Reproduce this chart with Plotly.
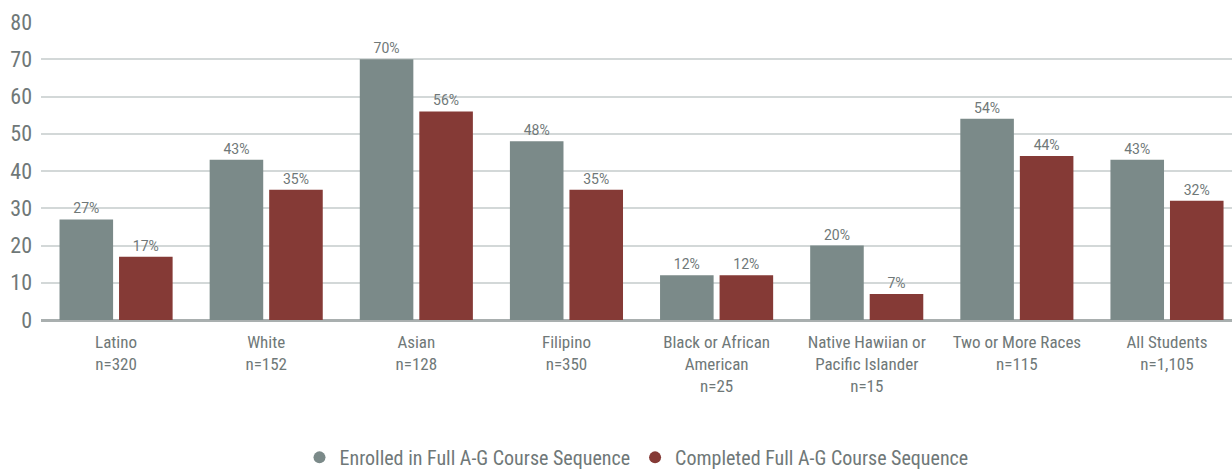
import plotly.graph_objects as go

# Student groups (tick labels) and the two series, in percent
categories = [
    "Latino<br>n=320",
    "White<br>n=152",
    "Asian<br>n=128",
    "Filipino<br>n=350",
    "Black or African<br>American<br>n=25",
    "Native Hawiian or<br>Pacific Islander<br>n=15",
    "Two or More Races<br>n=115",
    "All Students<br>n=1,105",
]
enrolled = [27, 43, 70, 48, 12, 20, 54, 43]
completed = [17, 35, 56, 35, 12, 7, 44, 32]
series_names = ["Enrolled in Full A-G Course Sequence", "Completed Full A-G Course Sequence"]

GREY = "#7b8a89"
RED = "#853a36"
TEXT = "#6f7878"
NARROW = "Roboto Condensed, Liberation Sans Narrow, DejaVu Sans Condensed, Roboto, sans-serif"

fig = go.Figure()
for vals, color in [(enrolled, GREY), (completed, RED)]:
    fig.add_trace(go.Bar(
        x=categories, y=vals, marker=dict(color=color, line=dict(width=0)),
        text=[f"{v}%" for v in vals], textposition="outside",
        textfont=dict(family="Roboto, sans-serif", size=14, color=TEXT),
        constraintext="none", cliponaxis=False, showlegend=False,
    ))

# Round legend markers
for name, color in zip(series_names, [GREY, RED]):
    fig.add_trace(go.Scatter(
        x=[None], y=[None], mode="markers", name=name,
        marker=dict(symbol="circle", size=13, color=color),
    ))

fig.update_layout(
    width=1232, height=472,
    margin=dict(l=41, r=0, t=22, b=152),
    paper_bgcolor="white", plot_bgcolor="white",
    barmode="group", bargap=0.207, bargroupgap=0.1,
    font=dict(family=NARROW, color=TEXT),
    legend=dict(
        orientation="h", x=0.5, xanchor="center",
        yref="container", y=0.031, yanchor="middle",
        font=dict(family=NARROW, size=20, color=TEXT),
        itemsizing="constant", itemwidth=30, tracegroupgap=0,
    ),
    xaxis=dict(
        type="category", range=[-0.5, 7.433],
        showgrid=False, showline=False, ticks="",
        tickfont=dict(family=NARROW, size=17, color=TEXT),
        ticklabelstandoff=10, automargin=False,
    ),
    yaxis=dict(
        range=[0, 80], dtick=10, tick0=0,
        showgrid=True, gridcolor="#d3d8d8", gridwidth=1.5,
        zeroline=True, zerolinecolor="#a9afaf", zerolinewidth=3,
        showline=False, ticks="",
        tickfont=dict(family=NARROW, size=22, color=TEXT),
        ticklabelstandoff=8, automargin=False,
    ),
)

fig.write_html("out.html")
